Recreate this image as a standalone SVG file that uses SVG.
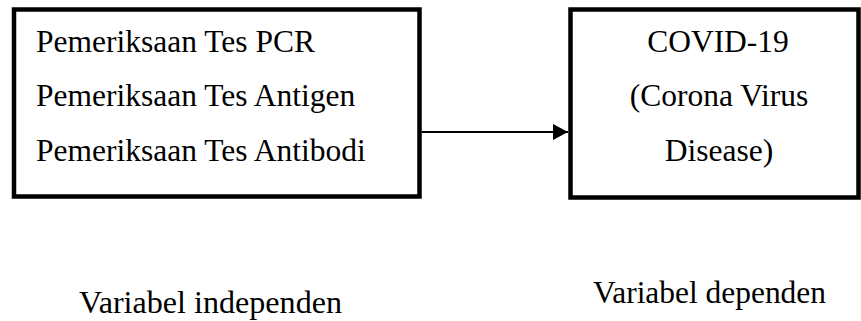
<svg xmlns="http://www.w3.org/2000/svg" width="861" height="321" viewBox="0 0 861 321">
<style>
.box{fill:#fff;stroke:#000;stroke-width:4.5}
.conn{stroke:#000;stroke-width:2.2;fill:none}
.f{font-family:"Liberation Serif","Times New Roman",Times,Tinos,"Nimbus Roman","Nimbus Roman No9 L",FreeSerif,"DejaVu Serif",serif;fill:#000}
</style>
<defs>
<marker id="arr" markerUnits="userSpaceOnUse" markerWidth="16" markerHeight="17" refX="15" refY="8" orient="auto">
<polygon points="0,0 15,8 0,16" fill="#000"/>
</marker>
</defs>
<rect width="861" height="321" fill="#fff"/>
<g id="independent" class="f" font-size="31.5">
<rect class="box" x="14" y="9.5" width="405.5" height="187"/>
<text x="36" y="52">Pemeriksaan Tes PCR</text>
<text x="36" y="106">Pemeriksaan Tes Antigen</text>
<text x="36" y="161">Pemeriksaan Tes Antibodi</text>
</g>
<g id="dependent" class="f" font-size="31.5" text-anchor="middle">
<rect class="box" x="570.5" y="9.5" width="288" height="188"/>
<text x="718" y="52">COVID-19</text>
<text x="719" y="106">(Corona Virus</text>
<text x="719" y="161">Disease)</text>
</g>
<g id="connectors">
<line class="conn" x1="421.5" y1="132" x2="568" y2="132" marker-end="url(#arr)"/>
</g>
<g id="labels" class="f" font-size="32">
<text x="79" y="313" textLength="263" lengthAdjust="spacingAndGlyphs">Variabel independen</text>
<text x="593" y="303" textLength="233" lengthAdjust="spacingAndGlyphs">Variabel dependen</text>
</g>
</svg>
